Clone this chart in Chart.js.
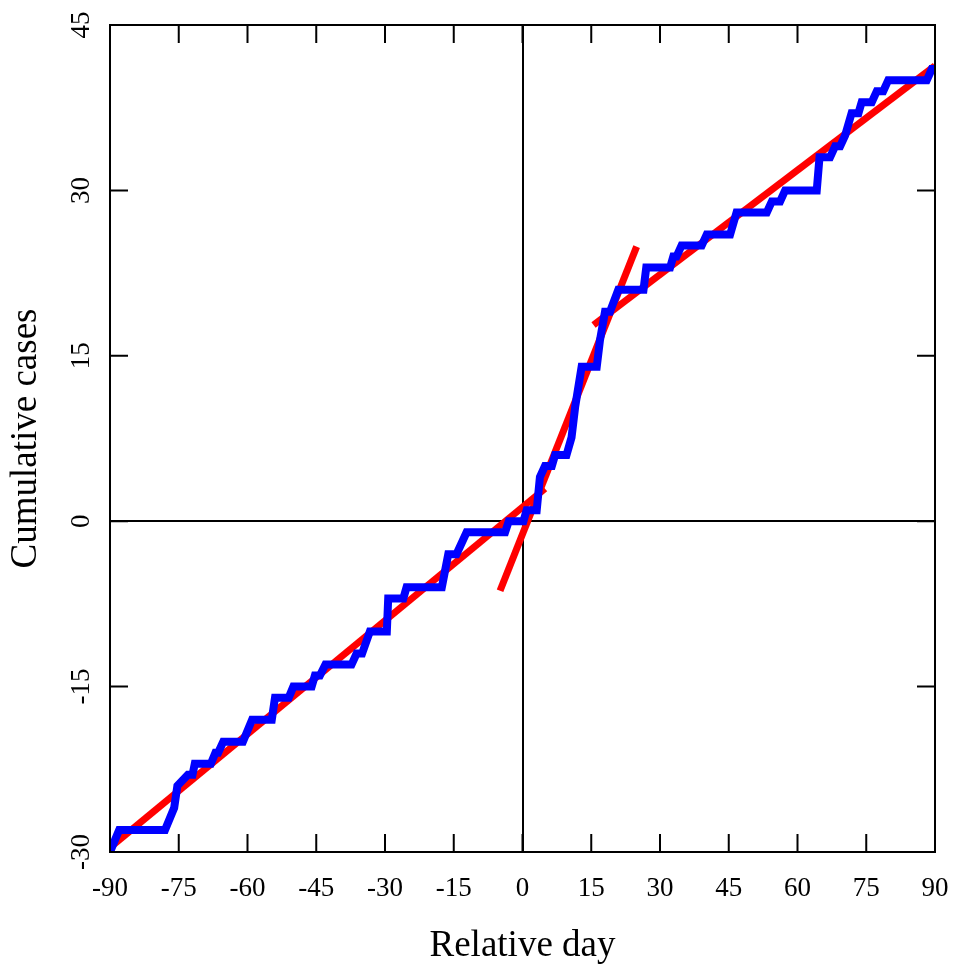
<!DOCTYPE html>
<html>
<head>
<meta charset="utf-8">
<title>Cumulative cases</title>
<script src="https://cdn.jsdelivr.net/npm/chart.js@4/dist/chart.umd.min.js"></script>
<style>
  html, body { margin: 0; padding: 0; background: #fff; }
  canvas { display: block; }
</style>
</head>
<body>
<canvas id="casesChart" width="954" height="968"></canvas>
<script>
// ==============================
// DATA
// ==============================
const caseDays = [
    -90, -88, -78, -76, -75.3, -73, -72, -71.5, -68, -67, -66.4, -65.3, -61, -59,
    -54.7, -54, -51, -50, -46, -45.3, -44.2, -43, -37.3, -36.2, -35, -33.3, -29.6,
    -29.3, -26, -25.3, -17.6, -16.2, -14.4, -12.2, -3.8, -3, 0.2, 0.9, 3.1, 3.8,
    4.9, 6.4, 7.1, 9.6, 10.7, 11.5, 12.9, 16.2, 16.9, 18, 19.1, 20.9, 26.4, 27,
    32.2, 32.9, 33.6, 34.7, 39.1, 40.2, 45.3, 46.7, 53.3, 54.4, 56.2, 57.3, 64.2,
    64.8, 67.1, 68.2, 69.3, 70.4, 71.8, 73.3, 74, 76.2, 77.3, 78.7, 79.8, 88.2,
    89.3, 90
];
const caseCounts = [
    -30, -28, -28, -26, -24, -23, -23, -22, -22, -21, -21, -20, -20, -18,
    -18, -16, -16, -15, -15, -14, -14, -13, -13, -12, -12, -10, -10,
    -7, -7, -6, -6, -3, -3, -1, -1, 0, 0, 1, 1, 4,
    5, 5, 6, 6, 7.6, 10.4, 14, 14, 16.4, 19, 19, 21, 21, 23,
    23, 24, 24, 25, 25, 26, 26, 28, 28, 29, 29, 30, 30,
    33, 33, 34, 34, 35, 37, 37, 38, 38, 39, 39, 40, 40,
    41, 41
];

// fitted trend segments
const fitBeforeDays  = [-90, 4.9];
const fitBeforeCases = [-29.6, 2.95];
const fitPeakDays    = [-4.9, 24.9];
const fitPeakCases   = [-6.3, 24.9];
const fitAfterDays   = [15.5, 90];
const fitAfterCases  = [17.8, 41.3];

const dayTicks  = [-90, -75, -60, -45, -30, -15, 0, 15, 30, 45, 60, 75, 90];
const caseTicks = [-30, -15, 0, 15, 30, 45];

// ==============================
// HELPERS
// ==============================
function toPoints(xs, ys){
    return xs.map((x, i) => ({ x: x, y: ys[i] }));
}

const FONT = "'Liberation Serif', 'Times New Roman', serif";
const TICK_LEN = 18;

// frame + inward tick marks on all four sides
const framePlugin = {
    id: "frame",
    afterDatasetsDraw(chart){
        const { ctx, chartArea: a, scales } = chart;
        ctx.save();
        ctx.strokeStyle = "#000";
        ctx.lineWidth = 2;
        ctx.beginPath();
        scales.x.ticks.forEach(t => {
            const px = scales.x.getPixelForValue(t.value);
            ctx.moveTo(px, a.bottom); ctx.lineTo(px, a.bottom - TICK_LEN);
            ctx.moveTo(px, a.top);    ctx.lineTo(px, a.top + TICK_LEN);
        });
        scales.y.ticks.forEach(t => {
            const py = scales.y.getPixelForValue(t.value);
            ctx.moveTo(a.left, py);  ctx.lineTo(a.left + TICK_LEN, py);
            ctx.moveTo(a.right, py); ctx.lineTo(a.right - TICK_LEN, py);
        });
        ctx.stroke();
        ctx.strokeRect(a.left, a.top, a.right - a.left, a.bottom - a.top);
        ctx.restore();
    }
};

// ==============================
// CHART
// ==============================
const zeroLine = c => (c.tick && c.tick.value === 0) ? "#000" : "rgba(0,0,0,0)";

const ctx = document.getElementById("casesChart").getContext("2d");

const casesChart = new Chart(ctx, {
    type: "line",
    data: {
        datasets: [{
            label: "Cumulative cases",
            data: toPoints(caseDays, caseCounts),
            borderColor: "#0000ff",
            borderWidth: 8,
            borderJoinStyle: "miter",
            pointRadius: 0,
            tension: 0
        }, {
            label: "Trend before",
            data: toPoints(fitBeforeDays, fitBeforeCases),
            borderColor: "#ff0000",
            borderWidth: 7,
            pointRadius: 0
        }, {
            label: "Trend peak",
            data: toPoints(fitPeakDays, fitPeakCases),
            borderColor: "#ff0000",
            borderWidth: 7,
            pointRadius: 0
        }, {
            label: "Trend after",
            data: toPoints(fitAfterDays, fitAfterCases),
            borderColor: "#ff0000",
            borderWidth: 7,
            pointRadius: 0
        }]
    },
    options: {
        responsive: false,
        animation: false,
        devicePixelRatio: 1,
        layout: { padding: { top: 25, right: 19, left: 0, bottom: 0 } },
        plugins: {
            legend: { display: false },
            tooltip: { enabled: false }
        },
        scales: {
            x: {
                type: "linear",
                min: -90,
                max: 90,
                afterBuildTicks: s => { s.ticks = dayTicks.map(v => ({ value: v })); },
                afterFit: s => { s.height = 116; s.paddingLeft = 0; s.paddingRight = 0; },
                grid: { color: zeroLine, lineWidth: 2, drawTicks: false },
                border: { display: false },
                ticks: {
                    color: "#000",
                    padding: 21,
                    maxRotation: 0,
                    autoSkip: false,
                    font: { family: FONT, size: 27 }
                },
                title: {
                    display: true,
                    text: "Relative day",
                    color: "#000",
                    padding: { top: 0, bottom: 0 },
                    font: { family: FONT, size: 37 }
                }
            },
            y: {
                type: "linear",
                min: -30,
                max: 45,
                afterBuildTicks: s => { s.ticks = caseTicks.map(v => ({ value: v })); },
                afterFit: s => { s.width = 110; s.paddingTop = 0; s.paddingBottom = 0; },
                grid: { color: zeroLine, lineWidth: 2, drawTicks: false },
                border: { display: false },
                ticks: {
                    color: "#000",
                    padding: 10,
                    minRotation: 90,
                    maxRotation: 90,
                    crossAlign: "center",
                    autoSkip: false,
                    font: { family: FONT, size: 27 }
                },
                title: {
                    display: true,
                    text: "Cumulative cases",
                    color: "#000",
                    padding: { top: 4, bottom: 0 },
                    font: { family: FONT, size: 37 }
                }
            }
        }
    },
    plugins: [framePlugin]
});
</script>
</body>
</html>
